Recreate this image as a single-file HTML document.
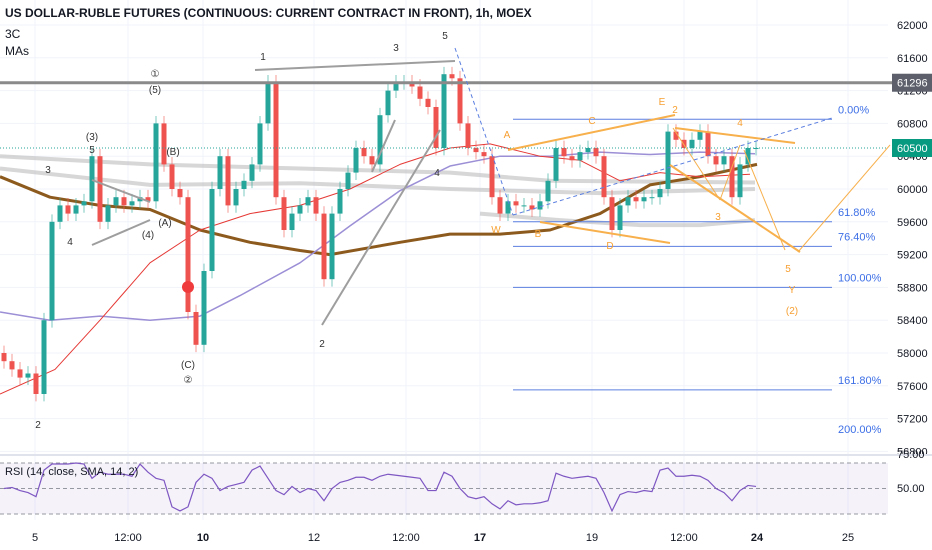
<!DOCTYPE html>
<html><head><meta charset="utf-8"><style>
body{margin:0;background:#fff;font-family:"Liberation Sans",sans-serif}
svg{display:block}
text{font-family:"Liberation Sans",sans-serif}
</style></head><body>
<svg id="c" width="932" height="550" viewBox="0 0 932 550" xmlns="http://www.w3.org/2000/svg">
<rect width="932" height="550" fill="#fff"/>
<g id="grid"></g>
<rect x="0" y="463" width="888" height="51" fill="#7e57c2" fill-opacity="0.08"/>
<g id="mas"></g>
<g id="fib"></g>
<g id="candles"></g>
<g id="ann"></g>
<g id="rsi"></g>
<g id="axes"></g>
<text x="5" y="17" font-size="12" font-weight="bold" fill="#131722">US DOLLAR-RUBLE FUTURES (CONTINUOUS: CURRENT CONTRACT IN FRONT), 1h, MOEX</text>
<text x="5" y="38" font-size="12" fill="#131722">3C</text>
<text x="5" y="55" font-size="12" fill="#131722">MAs</text>
<text x="5" y="475" font-size="11" fill="#131722">RSI (14, close, SMA, 14, 2)</text>
</svg>
<script>
const closes=[57900,57800,57700,57750,57500,58400,59600,59800,59700,59800,59850,60400,59600,59800,59900,59800,59850,59900,59850,60800,60300,60000,59900,58500,58100,59000,60000,60400,59800,60000,60100,60300,60800,61300,59900,59500,59700,59800,59900,59700,58900,59700,60000,60200,60500,60400,60300,60900,61200,61300,61300,61250,61100,61000,60500,61400,61350,60800,60500,60450,60400,59900,59700,59850,59800,59800,59750,59850,60100,60500,60400,60350,60450,60500,60400,59900,59500,59800,59900,59850,59900,59900,60000,60700,60600,60500,60600,60700,60400,60300,60400,59900,60300,60500,60500];
const firstOpen=58000;
const rsiVals=[50,51,48,46,42,68,74,74,74,75,74,60,66,64,64,64,62,74,66,60,58,32,28,32,56,64,60,48,52,54,56,68,72,60,48,44,52,46,50,48,38,50,56,58,61,61,58,62,64,63,62,61,60,48,48,66,62,50,42,40,42,35,30,38,34,35,35,36,38,65,62,60,61,62,60,46,28,44,47,46,48,47,68,70,62,62,63,62,58,50,46,38,48,53,52];
const redMA=[[0,57500],[55,57800],[100,58400],[150,59100],[200,59500],[250,59700],[300,59800],[350,60000],[400,60300],[450,60500],[490,60550],[540,60400],[580,60350],[620,60100],[660,60200],[700,60150],[750,60180]];
const purpleMA=[[0,58500],[50,58400],[100,58450],[150,58400],[200,58450],[240,58700],[300,59100],[350,59550],[400,59980],[450,60280],[500,60400],[550,60400],[600,60450],[650,60420],[700,60450],[755,60430]];
const brownMA=[[0,60150],[50,59900],[100,59800],[150,59750],[200,59500],[250,59350],[300,59250],[330,59200],[400,59350],[450,59450],[500,59450],[550,59500],[600,59700],[650,60050],[700,60150],[757,60300]];
const grayMA1=[[0,60400],[150,60300],[300,60250],[450,60200],[550,60100],[755,60080]];
const grayMA2=[[0,60250],[150,60050],[300,60070],[450,60000],[600,59950],[755,60000]];
const grayMA3=[[480,59700],[560,59620],[640,59560],[700,59560],[755,59620]];
const priceTicks=[62000,61600,61200,60800,60400,60000,59600,59200,58800,58400,58000,57600,57200,56800];
const timeTicks=[[35,"5"],[128,"12:00"],[203,"10"],[314,"12"],[406,"12:00"],[480,"17"],[592,"19"],[684,"12:00"],[757,"24"],[848,"25"]];
const fibLevels=[[60850,"0.00%"],[59600,"61.80%"],[59300,"76.40%"],[58800,"100.00%"],[57550,"161.80%"],[56950,"200.00%"]];

const NS="http://www.w3.org/2000/svg";
const py=p=>25+(62000-p)/400*32.8;
const ix=i=>4+i*8;
const ry=v=>488.5-(v-50)*1.02;
function mk(parent,tag,attrs){const e=document.createElementNS(NS,tag);for(const k in attrs)e.setAttribute(k,attrs[k]);document.getElementById(parent).appendChild(e);return e;}

priceTicks.forEach(p=>{const l=mk('grid','line',{x1:0,x2:888,y1:py(p),y2:py(p),stroke:'#f0f3fa'});
 const t=mk('axes','text',{x:897,y:py(p)+4,'font-size':11,fill:'#131722'});t.textContent=p;});
timeTicks.forEach(([x,s])=>{const l=mk('grid','line',{x1:x,x2:x,y1:0,y2:520,stroke:'#f0f3fa'});
 const t=mk('axes','text',{x:x,y:541,'font-size':11,fill:'#131722','text-anchor':'middle','font-weight':(s==="10"||s==="17"||s==="24")?'bold':'normal'});t.textContent=s;});
const sep=mk('axes','line',{x1:0,x2:932,y1:455,y2:455,stroke:'#e0e3eb','stroke-width':2});

function poly(arr,color,w,name,op){const pts=arr.map(([x,p])=>x+','+py(p)).join(' ');const e=mk('mas','polyline',{points:pts,fill:'none',stroke:color,'stroke-width':w,'stroke-opacity':op||1,'stroke-linejoin':'round'});}
poly(grayMA1,'#bdbdbd',4,'gray-ma-1',0.6);
poly(grayMA2,'#bdbdbd',4,'gray-ma-2',0.6);
poly(grayMA3,'#bdbdbd',4,'gray-ma-3',0.6);
poly(brownMA,'#8d5a1e',3,'brown-ma');
poly(purpleMA,'#9c8fd6',1.5,'purple-ma');
poly(redMA,'#e53935',1,'red-ma');

const hl=mk('ann','line',{x1:0,x2:893,y1:py(61296),y2:py(61296),stroke:'#8a8a8a','stroke-width':3});
const cp=mk('ann','line',{x1:0,x2:888,y1:py(60500),y2:py(60500),stroke:'#26a69a','stroke-dasharray':'1 2'});

fibLevels.forEach(([p,s],k)=>{if(k<fibLevels.length-1){const l=mk('fib','line',{x1:513,x2:832,y1:py(p),y2:py(p),stroke:'#5b7fe0','stroke-width':1});}
 const t=mk('fib','text',{x:838,y:py(p)-6,'font-size':11,fill:'#3d6fe6'});t.textContent=s;});

let prev=firstOpen;
closes.forEach((c,i)=>{const o=prev;prev=c;const up=c>=o;const col=up?'#26a69a':'#ef5350';const x=ix(i);
 const hi=Math.max(o,c)+90,lo=Math.min(o,c)-90;
 const w=mk('candles','line',{x1:x,x2:x,y1:py(hi),y2:py(lo),stroke:col,'stroke-opacity':0.6});
 const top=py(Math.max(o,c)),bot=py(Math.min(o,c));
 const b=mk('candles','rect',{x:x-2.5,y:top,width:5,height:Math.max(1,bot-top),fill:col});});

[463,488.5,514].forEach(y=>{const l=mk('rsi','line',{x1:0,x2:888,y1:y,y2:y,stroke:'#9598a1','stroke-dasharray':'4 3'});});
const rl=mk('rsi','polyline',{points:rsiVals.map((v,i)=>ix(i)+','+ry(v)).join(' '),fill:'none',stroke:'#7e57c2','stroke-width':1.2});
const r50=mk('axes','text',{x:897,y:492,'font-size':11,fill:'#131722'});r50.textContent='50.00';
const r75=mk('axes','text',{x:897,y:458,'font-size':11,fill:'#131722'});r75.textContent='75.00';

const lines=[[255,70,455,61,'#9e9e9e',2],[92,180,150,202,'#9e9e9e',2],[92,245,150,220,'#9e9e9e',2],[322,325,440,130,'#9e9e9e',2],[372,172,395,120,'#9e9e9e',2],
[508,150,675,115,'#f7b04c',2],[540,222,670,243,'#f7b04c',2],[675,128,795,143,'#f7b04c',2],[670,165,800,252,'#f7b04c',2],[673,128,720,200,'#f7b04c',1],[720,200,740,145,'#f7b04c',1],[744,150,785,250,'#f7b04c',1],[798,252,890,145,'#f7b04c',1],
[455,48,513,215,'#5b7fe0',1],[513,215,832,118,'#5b7fe0',1]];
lines.forEach(([a,b,c,d,col,w])=>{const l=mk('ann','line',{x1:a,y1:b,x2:c,y2:d,stroke:col,'stroke-width':w,'stroke-dasharray':col==='#5b7fe0'?'4 3':''});});
const labels=[[48,173,'3','#333'],[92,140,'(3)','#333'],[92,153,'5','#333'],[70,245,'4','#333'],[148,238,'(4)','#333'],[165,226,'(A)','#333'],[173,155,'(B)','#333'],[155,77,'①','#333'],[155,93,'(5)','#333'],[188,368,'(C)','#333'],[188,383,'②','#333'],[38,428,'2','#333'],[263,60,'1','#333'],[396,51,'3','#333'],[445,39,'5','#333'],[437,176,'4','#333'],[322,347,'2','#333'],
[496,233,'W','#f7a032'],[507,138,'A','#f7a032'],[538,237,'B','#f7a032'],[592,124,'C','#f7a032'],[610,249,'D','#f7a032'],[662,105,'E','#f7a032'],[675,113,'2','#f7a032'],[740,126,'4','#f7a032'],[718,220,'3','#f7a032'],[788,272,'5','#f7a032'],[792,293,'Y','#f7a032'],[792,314,'(2)','#f7a032']];
labels.forEach(([x,y,s,col])=>{const t=mk('ann','text',{x:x,y:y,'font-size':10,fill:col,'text-anchor':'middle'});t.textContent=s;});
const dot=mk('ann','circle',{cx:188,cy:287,r:6,fill:'#ef3b3b'});

const b1=mk('axes','rect',{x:892,y:py(61296)-9,width:40,height:18,fill:'#5d606b'});
const t1=mk('axes','text',{x:897,y:py(61296)+4,'font-size':11,fill:'#fff'});t1.textContent='61296';
const b2=mk('axes','rect',{x:892,y:py(60500)-9,width:40,height:18,fill:'#089981'});
const t2=mk('axes','text',{x:897,y:py(60500)+4,'font-size':11,fill:'#fff'});t2.textContent='60500';
</script>
</body></html>
